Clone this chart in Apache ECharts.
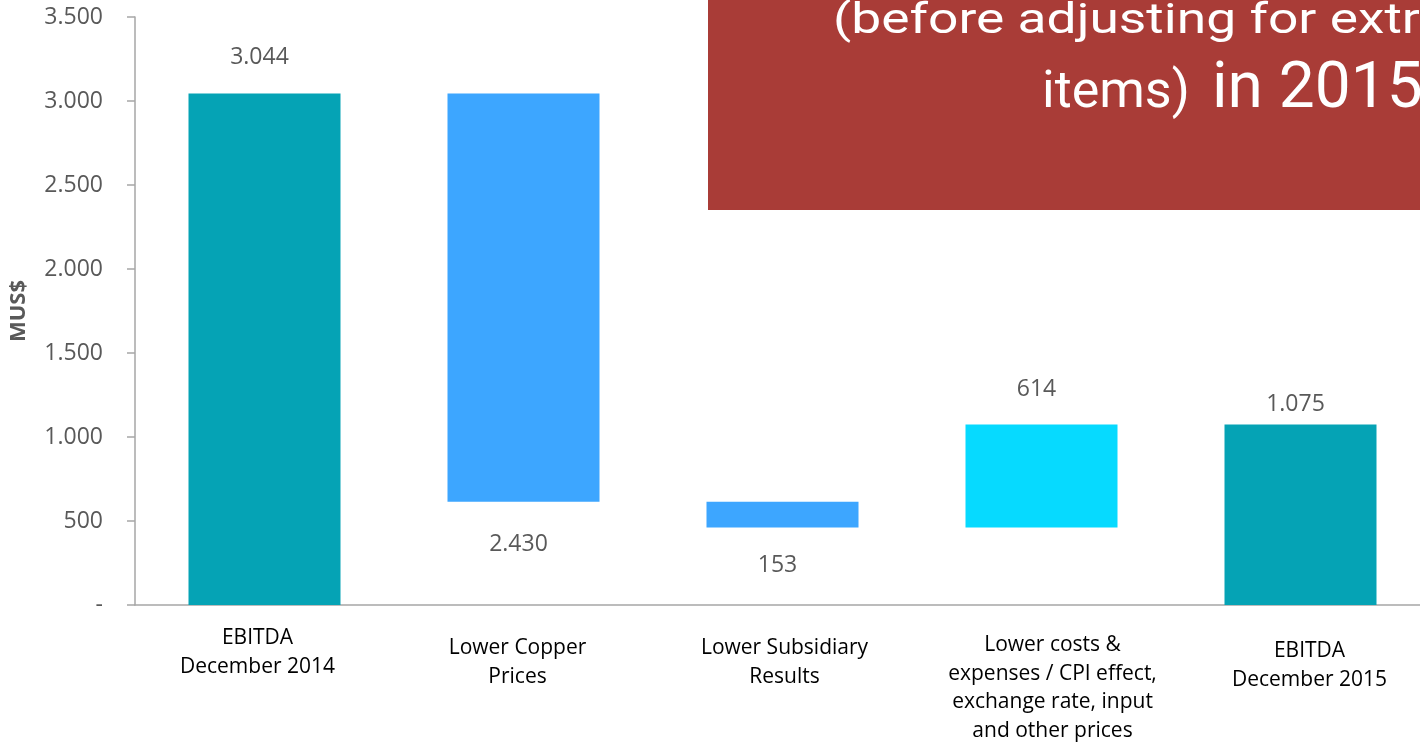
<!DOCTYPE html>
<html>
<head>
<meta charset="utf-8">
<script src="https://cdn.jsdelivr.net/npm/echarts@6/dist/echarts.min.js"></script>
<style>
  html, body { margin: 0; padding: 0; background: #ffffff; }
  #chart { width: 1420px; height: 742px; }
</style>
</head>
<body>
<div id="chart"></div>
<script>
// EBITDA bridge 2014 -> 2015 (MUS$)
const categories = [
  'EBITDA\nDecember 2014',
  'Lower Copper\nPrices',
  'Lower Subsidiary\nResults',
  'Lower costs &\nexpenses / CPI effect,\nexchange rate, input\nand other prices',
  'EBITDA\nDecember 2015'
];
const changes = [3044, -2430, -153, 614, 1075];
const kinds = ['total', 'step', 'step', 'step', 'total'];
const yTickLabels = ['-', '500', '1.000', '1.500', '2.000', '2.500', '3.000', '3.500'];
const boxLines = ['(before adjusting for extraordinary', 'items)', 'in 2015'];

// styling
const barColors = ['#05A3B5', '#3DA6FF', '#3DA6FF', '#06DAFF', '#05A3B5'];
const labelDistance = [25, 31, 26, 23, 8];
// category label padding: [top, right, bottom, left]
const catLabelPad = [[0, 14, 0, 0], [10, 12, 0, 0], [10, 0, 0, 4], [7, 0, 0, 22], [13, 0, 0, 18]];
const grey = '#595959';
const axisGrey = '#A6A6A6';

const fmt = v => String(v).replace(/\B(?=(\d{3})+(?!\d))/g, '.');

// running level for the waterfall: invisible base + visible segment
let level = 0;
const base = [];
const height = [];
changes.forEach((v, i) => {
  if (kinds[i] === 'total') {
    base.push(0); height.push(v); level = v;
  } else if (v < 0) {
    level += v; base.push(level); height.push(-v);
  } else {
    base.push(level); height.push(v); level += v;
  }
});

const chart = echarts.init(document.getElementById('chart'));
chart.setOption({
  animation: false,
  grid: { left: 135, top: 17, width: 1295, bottom: 137, outerBoundsMode: 'none', containLabel: false },
  xAxis: {
    type: 'category',
    data: categories.map((c, i) => ({ value: c, textStyle: { padding: catLabelPad[i] } })),
    axisLine: { lineStyle: { color: axisGrey, width: 1.5 } },
    axisTick: { length: 8, lineStyle: { color: axisGrey, width: 1.5 } },
    axisLabel: {
      interval: 0, margin: 19, color: '#000000',
      fontFamily: 'Open Sans', fontSize: 21, lineHeight: 28.5
    }
  },
  yAxis: {
    type: 'value', min: 0, max: 3500, interval: 500,
    name: 'MUS$', nameLocation: 'middle', nameGap: 105, nameRotate: 90,
    nameTextStyle: { fontFamily: 'Open Sans', fontWeight: 'bold', fontSize: 22, color: grey },
    axisLine: { show: true, lineStyle: { color: axisGrey, width: 1.5 } },
    axisTick: { show: true, length: 8, lineStyle: { color: axisGrey, width: 1.5 } },
    splitLine: { show: false },
    axisLabel: {
      margin: 32, color: grey, fontFamily: 'Open Sans', fontSize: 23,
      formatter: v => yTickLabels[Math.round(v / 500)]
    }
  },
  series: [
    {
      type: 'bar', stack: 'wf', barWidth: 152, silent: true,
      itemStyle: { color: 'rgba(0,0,0,0)' },
      data: base
    },
    {
      type: 'bar', stack: 'wf', barWidth: 152,
      data: height.map((h, i) => ({
        value: h,
        itemStyle: { color: barColors[i] },
        label: {
          show: true,
          position: (kinds[i] === 'step' && changes[i] < 0) ? 'bottom' : 'top',
          distance: labelDistance[i],
          offset: [-5, 0],
          formatter: () => fmt(Math.abs(changes[i])),
          color: grey, fontFamily: 'Open Sans', fontSize: 23
        }
      }))
    }
  ],
  graphic: [
    { type: 'rect', x: 708, y: 0, z: 10, shape: { width: 720, height: 210 }, style: { fill: '#A93C37' } },
    { type: 'text', x: 833, y: 1, scaleX: 1.27, z: 11,
      style: { text: boxLines[0], fill: '#ffffff', font: '42px Roboto' } },
    { type: 'text', x: 1042, y: 68, z: 11,
      style: { text: boxLines[1], fill: '#ffffff', font: '52px Roboto' } },
    { type: 'text', x: 1212, y: 59, z: 11,
      style: { text: boxLines[2], fill: '#ffffff', font: '64px Roboto' } }
  ]
});
</script>
</body>
</html>
